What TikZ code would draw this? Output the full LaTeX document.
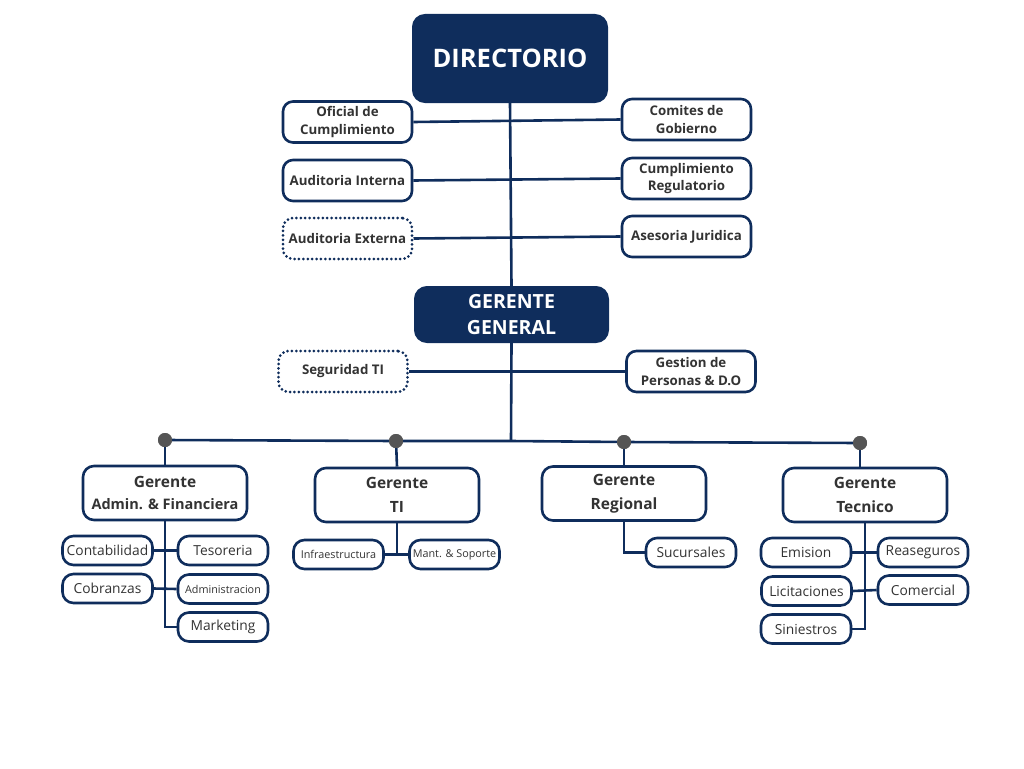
\documentclass[tikz,border=0pt]{standalone}
\usepackage{fontspec}
\setmainfont{Open Sans}
\usepackage{tikz}

\definecolor{navy}{HTML}{0F2D5C}
\definecolor{txt}{HTML}{333333}
\definecolor{dotgray}{HTML}{555555}

\tikzset{
  head/.style={draw=navy, fill=navy, line width=2pt, rounded corners=12pt, text=white,
    font=\bfseries, align=center, inner sep=0pt},
  side/.style={draw=navy, fill=white, line width=2.6pt, rounded corners=10pt, text=txt,
    font=\bfseries\fontsize{13.3}{17.5}\selectfont, align=center, inner sep=0pt,
    minimum width=129pt, minimum height=41pt},
  sidedot/.style={side, line width=3pt, line cap=round, dash pattern=on 0pt off 4.4pt},
  mgr/.style={draw=navy, fill=white, line width=2.6pt, rounded corners=11pt, text=txt,
    font=\bfseries\fontsize{15.5}{23.5}\selectfont, align=center, inner sep=0pt,
    minimum width=164pt, minimum height=54pt},
  unit/.style={draw=navy, fill=white, line width=2.6pt, rounded corners=11pt, text=txt,
    font=\fontsize{13.8}{15}\selectfont, align=center, inner sep=0pt,
    minimum width=90pt, minimum height=29pt},
  tiny/.style={font=\fontsize{10.8}{12}\selectfont},
  link/.style={draw=navy, line width=2.6pt},
  knot/.style={circle, fill=dotgray, inner sep=0pt, minimum size=14pt}
}

\begin{document}
\begin{tikzpicture}[x=1pt,y=-1pt]
\useasboundingbox (0,0) rectangle (1024,768);

\node[head, minimum width=194pt, minimum height=87pt, font=\bfseries\fontsize{25.5}{28}\selectfont] (dir) at (510,58.5) {DIRECTORIO};
\node[head, minimum width=193pt, minimum height=55pt, font=\bfseries\fontsize{19.5}{26}\selectfont] (gg) at (511.5,314.5) {GERENTE\\GENERAL};

\node[side] (ofc) at (347.5,122) {Oficial de\\Cumplimiento};
\node[side] (cgo) at (686.5,119.5) {Comites de\\Gobierno};
\node[side] (aint) at (347.5,180.5) {Auditoria Interna};
\node[side] (creg) at (686.5,178.5) {Cumplimiento\\Regulatorio};
\node[sidedot] (aext) at (347.5,238.5) {Auditoria Externa};
\node[side] (ajur) at (686.5,236.5) {Asesoria Juridica};
\node[sidedot] (seg) at (343,371.5) {Seguridad TI};
\node[side] (gpe) at (691,371.5) {Gestion de\\Personas \& D.O};

\coordinate (hub) at (511,441);
\node[knot] (dA) at (165,440) {};
\node[knot] (dB) at (396,441) {};
\node[knot] (dC) at (624,442) {};
\node[knot] (dD) at (860,443) {};

\node[mgr] (gaf) at (165,493) {Gerente\\[-2pt]\fontsize{14.5}{19}\selectfont Admin. \& Financiera};
\node[mgr] (gti) at (397,495) {Gerente\\TI};
\node[mgr] (grg) at (624,493.5) {Gerente\\Regional};
\node[mgr] (gtc) at (865,495) {Gerente\\Tecnico};

\node[unit] (cont) at (107.5,550.5) {Contabilidad};
\node[unit] (teso) at (223,550.5) {Tesoreria};
\node[unit] (cobr) at (107.5,588.5) {Cobranzas};
\node[unit, tiny] (admi) at (223,589) {Administracion};
\node[unit] (mkt) at (223,627) {Marketing};

\node[unit, tiny] (infr) at (338.5,554.5) {Infraestructura};
\node[unit, tiny] (mant) at (454.5,554.5) {Mant. \& Soporte};

\node[unit] (suc) at (691,552.5) {Sucursales};

\node[unit] (emi) at (806,552.5) {Emision};
\node[unit] (rea) at (923,552.5) {Reaseguros};
\node[unit] (lic) at (806.5,591) {Licitaciones};
\node[unit] (com) at (923,590) {Comercial};
\node[unit] (sin) at (806,629) {Siniestros};

% trunk
\path[link] (dir.south) -- (gg.north);
\path[link] (gg.south) -- (hub);
\path[link] (ofc.east) -- (cgo.west);
\path[link] (aint.east) -- (creg.west);
\path[link] (aext.east) -- (ajur.west);
\path[link] (seg.east) -- (gpe.west);
\path[link] (dA) -- (dB) -- (hub) -- (dC) -- (dD);

\path[link] (dA) -- (gaf.north);
\path[link] (dB) -- (gti.north);
\path[link] (dC) -- (grg.north);
\path[link] (dD) -- (gtc.north -| dD);

% areas
\path[link] (gaf.south) -- (gaf.south |- mkt.west) -- (mkt.west);
\path[link] (cont.east) -- (teso.west);
\path[link] (cobr.east) -- (admi.west);
\path[link] (gti.south) -- (gti.south |- infr.east);
\path[link] (infr.east) -- (mant.west);
\path[link] (grg.south) -- (grg.south |- suc.west) -- (suc.west);
\path[link] (gtc.south) -- (gtc.south |- sin.east) -- (sin.east);
\path[link] (emi.east) -- (rea.west);
\path[link] (lic.east) -- (com.west);

\node[knot] at (dA) {};
\node[knot] at (dB) {};
\node[knot] at (dC) {};
\node[knot] at (dD) {};
\end{tikzpicture}
\end{document}
